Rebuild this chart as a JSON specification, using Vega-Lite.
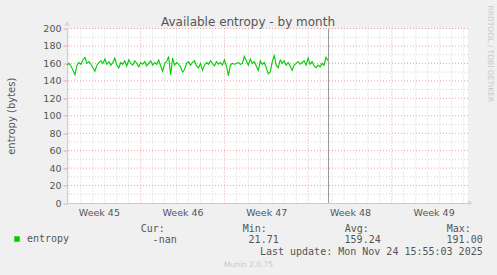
{
  "$schema": "https://vega.github.io/schema/vega-lite/v6.json",
  "autosize": {"type": "none"},
  "padding": {"left": 67, "top": 28.5, "right": 29, "bottom": 72},
  "width": 401,
  "height": 174.5,
  "background": "#f0f0f0",
  "title": {"text": "Available entropy - by month", "anchor": "middle", "frame": "group", "dx": -19.5, "dy": 28, "offset": 4, "font": "DejaVu Sans", "fontSize": 12, "fontWeight": "normal", "color": "#555555"},
  "config": {
    "view": {"fill": "#ffffff", "stroke": null},
    "axis": {"labelFont": "DejaVu Sans", "titleFont": "DejaVu Sans", "labelColor": "#555555", "titleColor": "#555555", "labelFontSize": 9.5, "titleFontWeight": "normal", "grid": false, "labelOverlap": false}
  },
  "datasets": {
    "vminor": [{"h":4},{"h":28},{"h":52},{"h":76},{"h":100},{"h":124},{"h":172},{"h":196},{"h":220},{"h":244},{"h":268},{"h":292},{"h":340},{"h":364},{"h":388},{"h":412},{"h":436},{"h":460},{"h":508},{"h":532},{"h":556},{"h":580},{"h":604},{"h":628},{"h":676},{"h":700},{"h":724},{"h":748},{"h":772},{"h":796}],
    "vmajor": [{"h":148},{"h":316},{"h":484},{"h":652}],
    "hminor": [{"v":10},{"v":30},{"v":50},{"v":70},{"v":90},{"v":110},{"v":130},{"v":150},{"v":170},{"v":190}],
    "hmajor": [{"v":20},{"v":40},{"v":60},{"v":80},{"v":100},{"v":120},{"v":140},{"v":160},{"v":180},{"v":200}],
    "entropy": [
      {"h":0,"v":158},{"h":4,"v":160},{"h":8,"v":157},{"h":12,"v":152},{"h":16,"v":147},{"h":20,"v":158},{"h":24,"v":161},{"h":28,"v":159},{"h":32,"v":164},{"h":36,"v":167},
      {"h":40,"v":160},{"h":44,"v":162},{"h":48,"v":159},{"h":52,"v":155},{"h":56,"v":151},{"h":60,"v":158},{"h":64,"v":161},{"h":68,"v":163},{"h":72,"v":160},{"h":76,"v":165},
      {"h":80,"v":159},{"h":84,"v":162},{"h":88,"v":158},{"h":92,"v":161},{"h":96,"v":166},{"h":100,"v":158},{"h":104,"v":155},{"h":108,"v":161},{"h":112,"v":159},{"h":116,"v":163},
      {"h":120,"v":157},{"h":124,"v":164},{"h":128,"v":160},{"h":132,"v":158},{"h":136,"v":163},{"h":140,"v":160},{"h":144,"v":156},{"h":148,"v":161},{"h":152,"v":159},{"h":156,"v":162},
      {"h":160,"v":157},{"h":164,"v":160},{"h":168,"v":163},{"h":172,"v":158},{"h":176,"v":161},{"h":180,"v":159},{"h":184,"v":164},{"h":188,"v":157},{"h":192,"v":151},{"h":196,"v":160},
      {"h":200,"v":162},{"h":204,"v":168},{"h":208,"v":147},{"h":212,"v":166},{"h":216,"v":158},{"h":220,"v":161},{"h":224,"v":159},{"h":228,"v":156},{"h":232,"v":150},{"h":236,"v":153},
      {"h":240,"v":160},{"h":244,"v":162},{"h":248,"v":158},{"h":252,"v":161},{"h":256,"v":163},{"h":260,"v":157},{"h":264,"v":155},{"h":268,"v":160},{"h":272,"v":152},{"h":276,"v":158},
      {"h":280,"v":161},{"h":284,"v":159},{"h":288,"v":163},{"h":292,"v":160},{"h":296,"v":157},{"h":300,"v":162},{"h":304,"v":159},{"h":308,"v":161},{"h":312,"v":158},{"h":316,"v":164},
      {"h":320,"v":157},{"h":324,"v":146},{"h":328,"v":158},{"h":332,"v":160},{"h":336,"v":159},{"h":340,"v":160},{"h":344,"v":161},{"h":348,"v":159},{"h":352,"v":160},{"h":356,"v":168},
      {"h":360,"v":163},{"h":364,"v":158},{"h":368,"v":165},{"h":372,"v":160},{"h":376,"v":162},{"h":380,"v":157},{"h":384,"v":152},{"h":388,"v":163},{"h":392,"v":159},{"h":396,"v":161},
      {"h":400,"v":155},{"h":404,"v":148},{"h":408,"v":150},{"h":412,"v":162},{"h":416,"v":169},{"h":420,"v":158},{"h":424,"v":155},{"h":428,"v":164},{"h":432,"v":160},{"h":436,"v":163},
      {"h":440,"v":158},{"h":444,"v":161},{"h":448,"v":157},{"h":452,"v":152},{"h":456,"v":158},{"h":460,"v":160},{"h":464,"v":162},{"h":468,"v":159},{"h":472,"v":161},{"h":476,"v":163},
      {"h":480,"v":158},{"h":484,"v":166},{"h":488,"v":159},{"h":492,"v":162},{"h":496,"v":157},{"h":500,"v":155},{"h":504,"v":158},{"h":508,"v":156},{"h":512,"v":160},{"h":516,"v":158},
      {"h":520,"v":167},{"h":524,"v":163}
    ],
    "stats": [
      {"row":"head","col":"Cur","text":"Cur:"},{"row":"head","col":"Min","text":"Min:"},{"row":"head","col":"Avg","text":"Avg:"},{"row":"head","col":"Max","text":"Max:"},
      {"row":"vals","col":"Cur","text":"-nan"},{"row":"vals","col":"Min","text":"21.71"},{"row":"vals","col":"Avg","text":"159.24"},{"row":"vals","col":"Max","text":"191.00"},
      {"row":"update","col":"Max","text":"Last update: Mon Nov 24 15:55:03 2025"}
    ]
  },
  "layer": [
    {"data": {"name": "vminor"}, "mark": {"type": "rule", "color": "#d4d4d4", "strokeDash": [1, 2], "strokeWidth": 1},
     "encoding": {"x": {"field": "h", "type": "quantitative", "scale": {"domain": [0, 805], "nice": false, "zero": false}, "axis": null}}},
    {"data": {"name": "hminor"}, "mark": {"type": "rule", "color": "#d4d4d4", "strokeDash": [1, 2], "strokeWidth": 1},
     "encoding": {"y": {"field": "v", "type": "quantitative", "scale": {"domain": [0, 200], "nice": false}, "axis": null}}},
    {"data": {"name": "vmajor"}, "mark": {"type": "rule", "color": "#f0a0a0", "strokeDash": [1, 2], "strokeWidth": 1},
     "encoding": {"x": {"field": "h", "type": "quantitative", "scale": {"domain": [0, 805], "nice": false, "zero": false}, "axis": null}}},
    {"data": {"name": "hmajor"}, "mark": {"type": "rule", "color": "#f0a0a0", "strokeDash": [1, 2], "strokeWidth": 1},
     "encoding": {"y": {"field": "v", "type": "quantitative", "scale": {"domain": [0, 200], "nice": false}, "axis": null}}},
    {"data": {"values": [{"h": 525}]}, "mark": {"type": "rule", "color": "#999999", "strokeWidth": 1},
     "encoding": {"x": {"field": "h", "type": "quantitative", "scale": {"domain": [0, 805], "nice": false, "zero": false}, "axis": null}}},
    {"data": {"name": "entropy"}, "mark": {"type": "line", "strokeWidth": 1.1, "interpolate": "linear"},
     "encoding": {
       "x": {"field": "h", "type": "quantitative", "scale": {"domain": [0, 805], "nice": false, "zero": false},
             "axis": {"values": [64, 232, 400, 568, 736], "ticks": false, "labelExpr": "'Week ' + (45 + round((datum.value - 64) / 168))", "labelPadding": 4, "labelOverlap": false, "domainColor": "#c8c8f0", "title": "Munin 2.0.75", "titleFontSize": 7.5, "titleColor": "#c8c8c8", "titleX": 181, "titleY": 61, "titleBaseline": "middle"}},
       "y": {"field": "v", "type": "quantitative", "scale": {"domain": [0, 200], "nice": false},
             "axis": {"values": [0, 20, 40, 60, 80, 100, 120, 140, 160, 180, 200], "labelOverlap": false, "tickSize": 4, "tickColor": "#f0a0a0", "labelPadding": 2, "domainColor": "#c8c8f0", "title": "entropy (bytes)", "titleFontSize": 10, "titlePadding": 26}},
       "color": {"datum": "entropy", "type": "nominal", "scale": {"domain": ["entropy"], "range": ["#00cc00"]},
                 "legend": {"orient": "none", "legendX": -55, "legendY": 205.5, "title": null, "symbolType": "square", "symbolSize": 30, "symbolStrokeWidth": 0, "symbolFillColor": "#00cc00", "labelFont": "DejaVu Sans Mono", "labelFontSize": 10, "labelColor": "#555555", "labelOffset": 5, "padding": 0}}
     }},
    {"data": {"values": [{"h": 0, "v": 206}]}, "mark": {"type": "point", "shape": "triangle-up", "filled": true, "size": 30, "color": "#c8c8f0"},
     "encoding": {"x": {"field": "h", "type": "quantitative", "scale": {"domain": [0, 805], "nice": false, "zero": false}, "axis": null},
                  "y": {"field": "v", "type": "quantitative", "scale": {"domain": [0, 200], "nice": false}, "axis": null}}},
    {"data": {"values": [{"h": 810, "v": 0}]}, "mark": {"type": "point", "shape": "triangle-right", "filled": true, "size": 30, "color": "#c8c8f0"},
     "encoding": {"x": {"field": "h", "type": "quantitative", "scale": {"domain": [0, 805], "nice": false, "zero": false}, "axis": null},
                  "y": {"field": "v", "type": "quantitative", "scale": {"domain": [0, 200], "nice": false}, "axis": null}}},
    {"data": {"name": "stats"}, "transform": [{"filter": "datum.row === 'head'"}],
     "mark": {"type": "text", "align": "left", "baseline": "middle", "font": "DejaVu Sans Mono", "fontSize": 10, "color": "#555555"},
     "encoding": {
       "x": {"field": "col", "type": "nominal", "scale": {"type": "point", "domain": ["Cur", "Min", "Avg", "Max"], "range": [73.7, 379.7], "padding": 0}, "axis": null},
       "y": {"field": "row", "type": "nominal", "scale": {"type": "point", "domain": ["head", "vals", "update"], "range": [200, 223], "padding": 0},
             "axis": {"orient": "right", "labels": false, "ticks": false, "domain": false, "title": "RRDTOOL / TOBI OETIKER", "titleAngle": 90, "titleAlign": "left", "titleBaseline": "middle", "titleX": 21, "titleY": -23.5, "titleFontSize": 7.5, "titleColor": "#c8c8c8", "titleFont": "DejaVu Sans"}},
       "text": {"field": "text"}
     }},
    {"data": {"name": "stats"}, "transform": [{"filter": "datum.row !== 'head'"}],
     "mark": {"type": "text", "align": "right", "baseline": "middle", "dx": 36, "font": "DejaVu Sans Mono", "fontSize": 10, "color": "#555555"},
     "encoding": {
       "x": {"field": "col", "type": "nominal", "scale": {"type": "point", "domain": ["Cur", "Min", "Avg", "Max"], "range": [73.7, 379.7], "padding": 0}, "axis": null},
       "y": {"field": "row", "type": "nominal", "scale": {"type": "point", "domain": ["head", "vals", "update"], "range": [200, 223], "padding": 0}, "axis": null},
       "text": {"field": "text"}
     }}
  ],
  "resolve": {"scale": {"x": "independent", "y": "independent"}}
}
